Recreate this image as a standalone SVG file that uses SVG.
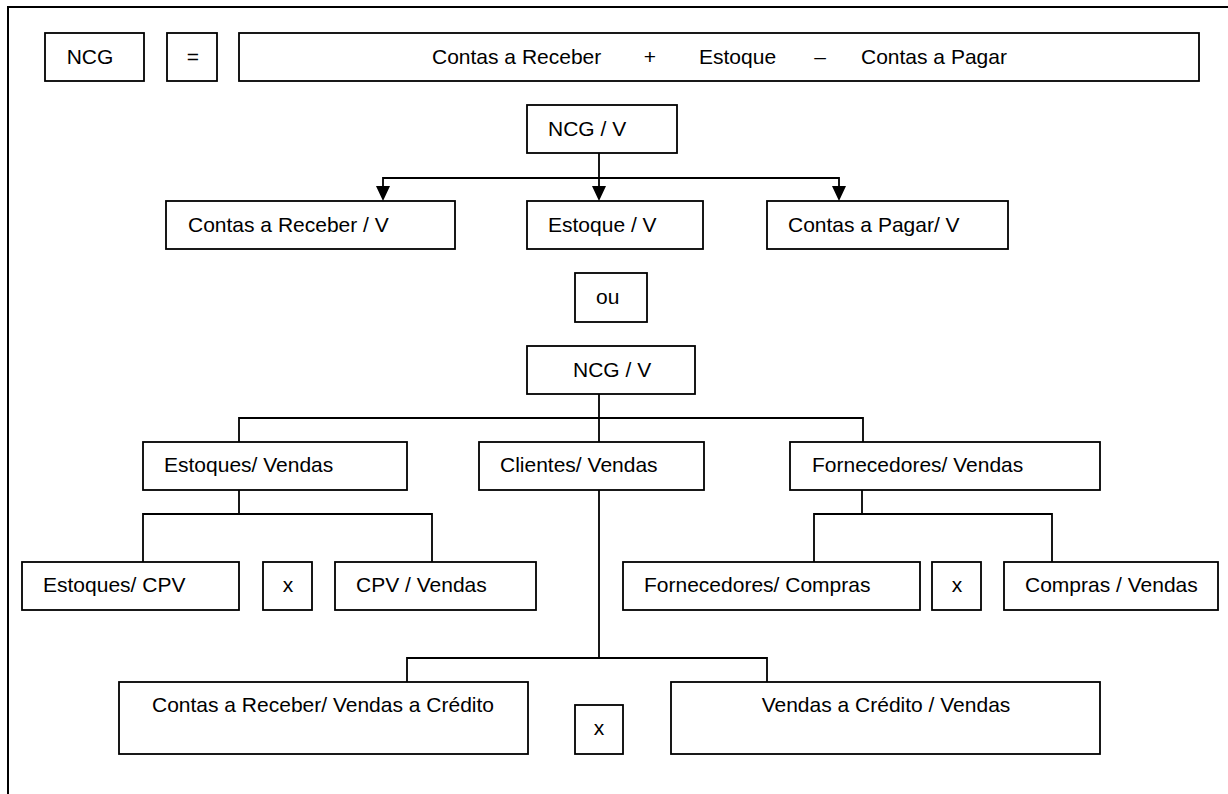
<svg xmlns="http://www.w3.org/2000/svg" width="1228" height="794" viewBox="0 0 1228 794">
<defs>
<style>
.b{fill:#fff;stroke:#000;stroke-width:1.8}
.t{font-family:"Liberation Sans",Arial,sans-serif;font-size:21px;fill:#000}
.c{text-anchor:middle}
.l{fill:none;stroke:#000;stroke-width:1.8}
.a{fill:#000}
</style>
</defs>
<rect width="1228" height="794" fill="#fff"/>
<path d="M8,794 V7 H1228" fill="none" stroke="#000" stroke-width="2"/>

<g id="connectors">
<path class="l" d="M599,153 V188"/>
<path class="l" d="M383,188 V178 H839 V188"/>
<path class="a" d="M592,186 L606,186 L599,201 Z"/>
<path class="a" d="M376,186 L390,186 L383,201 Z"/>
<path class="a" d="M832,186 L846,186 L839,201 Z"/>
<path class="l" d="M599,394 V442"/>
<path class="l" d="M239,442 V418 H863 V442"/>
<path class="l" d="M239,490 V514"/>
<path class="l" d="M143,562 V514 H432 V562"/>
<path class="l" d="M862,490 V514"/>
<path class="l" d="M814,562 V514 H1052 V562"/>
<path class="l" d="M599,490 V658"/>
<path class="l" d="M407,682 V658 H767 V682"/>
</g>

<g id="ncg"><rect class="b" x="45" y="33" width="99" height="48"/><text class="t c" x="90" y="64">NCG</text></g>
<g id="eq"><rect class="b" x="167" y="33" width="50" height="48"/><text class="t c" x="193" y="64">=</text></g>
<g id="formula"><rect class="b" x="239" y="33" width="960" height="48"/>
<text class="t" x="432" y="64">Contas a Receber</text>
<text class="t c" x="650" y="64">+</text>
<text class="t" x="699" y="64">Estoque</text>
<text class="t c" x="820" y="64">–</text>
<text class="t" x="861" y="64">Contas a Pagar</text></g>

<g id="ncgv1"><rect class="b" x="527" y="105" width="150" height="48"/><text class="t" x="548" y="136">NCG / V</text></g>
<g id="crv"><rect class="b" x="166" y="201" width="289" height="48"/><text class="t" x="188" y="232">Contas a Receber / V</text></g>
<g id="estv"><rect class="b" x="527" y="201" width="176" height="48"/><text class="t" x="548" y="232">Estoque / V</text></g>
<g id="cpv"><rect class="b" x="767" y="201" width="241" height="48"/><text class="t" x="788" y="232">Contas a Pagar/ V</text></g>

<g id="ou"><rect class="b" x="575" y="273" width="72" height="49"/><text class="t" x="596" y="304">ou</text></g>

<g id="ncgv2"><rect class="b" x="527" y="346" width="168" height="48"/><text class="t" x="573" y="377">NCG / V</text></g>

<g id="estvendas"><rect class="b" x="143" y="442" width="264" height="48"/><text class="t" x="164" y="472">Estoques/ Vendas</text></g>
<g id="clivendas"><rect class="b" x="479" y="442" width="225" height="48"/><text class="t" x="500" y="472">Clientes/ Vendas</text></g>
<g id="fornvendas"><rect class="b" x="790" y="442" width="310" height="48"/><text class="t" x="812" y="472">Fornecedores/ Vendas</text></g>

<g id="estcpv"><rect class="b" x="22" y="562" width="217" height="48"/><text class="t" x="43" y="592">Estoques/ CPV</text></g>
<g id="x1"><rect class="b" x="263" y="562" width="49" height="48"/><text class="t c" x="288" y="592">x</text></g>
<g id="cpvvendas"><rect class="b" x="335" y="562" width="201" height="48"/><text class="t" x="356" y="592">CPV / Vendas</text></g>

<g id="forncompras"><rect class="b" x="623" y="562" width="297" height="48"/><text class="t" x="644" y="592">Fornecedores/ Compras</text></g>
<g id="x2"><rect class="b" x="932" y="562" width="49" height="48"/><text class="t c" x="957" y="592">x</text></g>
<g id="comprasvendas"><rect class="b" x="1004" y="562" width="214" height="48"/><text class="t" x="1025" y="592">Compras / Vendas</text></g>

<g id="crvc"><rect class="b" x="119" y="682" width="409" height="72"/><text class="t c" x="323" y="712">Contas a Receber/ Vendas a Crédito</text></g>
<g id="x3"><rect class="b" x="575" y="705" width="48" height="49"/><text class="t c" x="599" y="735">x</text></g>
<g id="vcv"><rect class="b" x="671" y="682" width="429" height="72"/><text class="t c" x="886" y="712">Vendas a Crédito / Vendas</text></g>
</svg>
